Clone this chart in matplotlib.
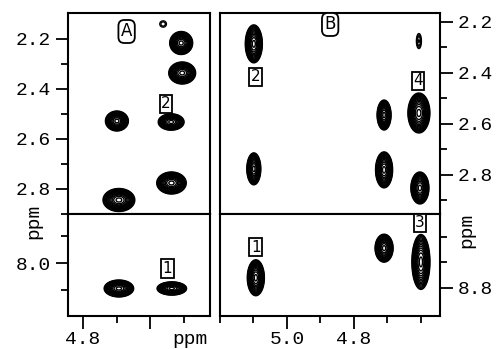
import numpy as np
import matplotlib
matplotlib.use("Agg")
import matplotlib.pyplot as plt

# peak tables: x (ppm), y (ppm), amplitude, sigma_x, sigma_y
a_top_x = [4.561, 4.507, 4.504, 4.699, 4.537, 4.536, 4.693]
a_top_y = [2.140, 2.216, 2.336, 2.528, 2.532, 2.776, 2.844]
a_top_amp = [0.075, 1.0, 1.0, 1.0, 0.8, 1.0, 1.0]
a_top_sx = [0.011, 0.014, 0.0164, 0.014, 0.0164, 0.018, 0.0194]
a_top_sy = [0.014, 0.0188, 0.018, 0.0163, 0.0139, 0.018, 0.0188]

a_bot_x = [4.693, 4.535]
a_bot_y = [8.047, 8.047]
a_bot_amp = [1.0, 1.0]
a_bot_sx = [0.018, 0.018]
a_bot_sy = [0.0064, 0.0050]

b_top_x = [5.099, 4.606, 4.710, 4.606, 5.099, 4.710, 4.603]
b_top_y = [2.286, 2.275, 2.565, 2.557, 2.776, 2.780, 2.851]
b_top_amp = [1.0, 0.1, 1.0, 1.0, 1.0, 1.0, 1.0]
b_top_sx = [0.0104, 0.0063, 0.0085, 0.0134, 0.0085, 0.0104, 0.011]
b_top_sy = [0.0304, 0.025, 0.024, 0.032, 0.0256, 0.0288, 0.0256]

b_bot_x = [5.093, 4.710, 4.600]
b_bot_y = [8.780, 8.722, 8.749]
b_bot_amp = [1.0, 1.0, 1.0]
b_bot_sx = [0.0104, 0.011, 0.011]
b_bot_sy = [0.0144, 0.0112, 0.022]

levels = 0.05 * 1.25 ** np.arange(14)

mono = "Liberation Mono"
W, H = 501, 349
fig = plt.figure(figsize=(W / 100, H / 100), dpi=100)


def make_ax(l, t, r, b):
    ax = fig.add_axes([l / W, 1 - b / H, (r - l) / W, (b - t) / H])
    for s in ax.spines.values():
        s.set_linewidth(1.5)
    ax.tick_params(which="both", direction="out", width=1.3, labelsize=14)
    ax.tick_params(which="major", length=9)
    ax.tick_params(which="minor", length=5)
    return ax


def peaks(ax, xs, ys, amp, sx, sy, xlim, ylim):
    gx = np.linspace(min(xlim), max(xlim), 500)
    gy = np.linspace(min(ylim), max(ylim), 500)
    X, Y = np.meshgrid(gx, gy)
    Z = np.zeros_like(X)
    for x0, y0, a, s1, s2 in zip(xs, ys, amp, sx, sy):
        Z += a * np.exp(-0.5 * (((X - x0) / s1) ** 2 + ((Y - y0) / s2) ** 2))
    ax.contour(X, Y, Z, levels=levels, colors="black", linewidths=1.0)
    ax.set_xlim(xlim)
    ax.set_ylim(ylim)


def tick_font(ax):
    for lab in ax.get_xticklabels() + ax.get_yticklabels():
        lab.set_family(mono)


circ = dict(boxstyle="round,pad=0.15,rounding_size=0.35", fc="white", ec="black", lw=1.3)
sq = dict(boxstyle="square,pad=0.1", fc="white", ec="black", lw=1.3)

# panel A
xa = (4.845, 4.421)
ax1 = make_ax(68, 13, 210, 214)
peaks(ax1, a_top_x, a_top_y, a_top_amp, a_top_sx, a_top_sy, xa, (2.9, 2.096))
ax1.set_yticks([2.2, 2.4, 2.6, 2.8])
ax1.set_yticklabels(["2.2", "2.4", "2.6", "2.8"])
ax1.set_yticks([2.3, 2.5, 2.7, 2.9], minor=True)
ax1.set_xticks([])
ax1.text(4.670, 2.17, "A", ha="center", va="center", fontsize=12, bbox=circ)
ax1.text(4.552, 2.46, "2", ha="center", va="center", fontsize=11, bbox=sq)
tick_font(ax1)

ax2 = make_ax(68, 214, 210, 316)
peaks(ax2, a_bot_x, a_bot_y, a_bot_amp, a_bot_sx, a_bot_sy, xa, (8.098, 7.909))
ax2.set_yticks([8.0])
ax2.set_yticklabels(["8.0"])
ax2.set_yticks([7.95, 8.05], minor=True)
ax2.set_xticks([4.8, 4.6])
ax2.set_xticklabels(["4.8", ""])
ax2.set_xticks([4.7, 4.5], minor=True)
ax2.tick_params(axis="x", pad=2)
ax2.text(4.548, 8.01, "1", ha="center", va="center", fontsize=11, bbox=sq)
tick_font(ax2)

# panel B
xb = (5.2, 4.543)
ax3 = make_ax(220, 13, 440, 214)
peaks(ax3, b_top_x, b_top_y, b_top_amp, b_top_sx, b_top_sy, xb, (2.953, 2.165))
ax3.yaxis.tick_right()
ax3.set_yticks([2.2, 2.4, 2.6, 2.8])
ax3.set_yticklabels(["2.2", "2.4", "2.6", "2.8"])
ax3.set_yticks([2.3, 2.5, 2.7, 2.9], minor=True)
ax3.set_xticks([])
ax3.text(4.871, 2.21, "B", ha="center", va="center", fontsize=12, bbox=circ)
ax3.text(5.093, 2.415, "2", ha="center", va="center", fontsize=11, bbox=sq)
ax3.text(4.609, 2.430, "4", ha="center", va="center", fontsize=11, bbox=sq)
tick_font(ax3)

ax4 = make_ax(220, 214, 440, 316)
peaks(ax4, b_bot_x, b_bot_y, b_bot_amp, b_bot_sx, b_bot_sy, xb, (8.855, 8.655))
ax4.yaxis.tick_right()
ax4.set_yticks([8.8])
ax4.set_yticklabels(["8.8"])
ax4.set_yticks([8.7, 8.75], minor=True)
ax4.set_xticks([5.0, 4.8])
ax4.set_xticklabels(["5.0", "4.8"])
ax4.set_xticks([5.2, 5.1, 4.9, 4.7, 4.6], minor=True)
ax4.tick_params(axis="x", pad=2)
ax4.text(5.093, 8.720, "1", ha="center", va="center", fontsize=11, bbox=sq)
ax4.text(4.603, 8.672, "3", ha="center", va="center", fontsize=11, bbox=sq)
tick_font(ax4)

fig.text(190 / W, 1 - 340 / H, "ppm", family=mono, fontsize=14, ha="center", va="center")
fig.text(34 / W, 1 - 221 / H, "ppm", family=mono, fontsize=14, ha="center", va="center", rotation=90)
fig.text(467 / W, 1 - 230 / H, "ppm", family=mono, fontsize=14, ha="center", va="center", rotation=90)

fig.savefig("out.png", dpi=100)
